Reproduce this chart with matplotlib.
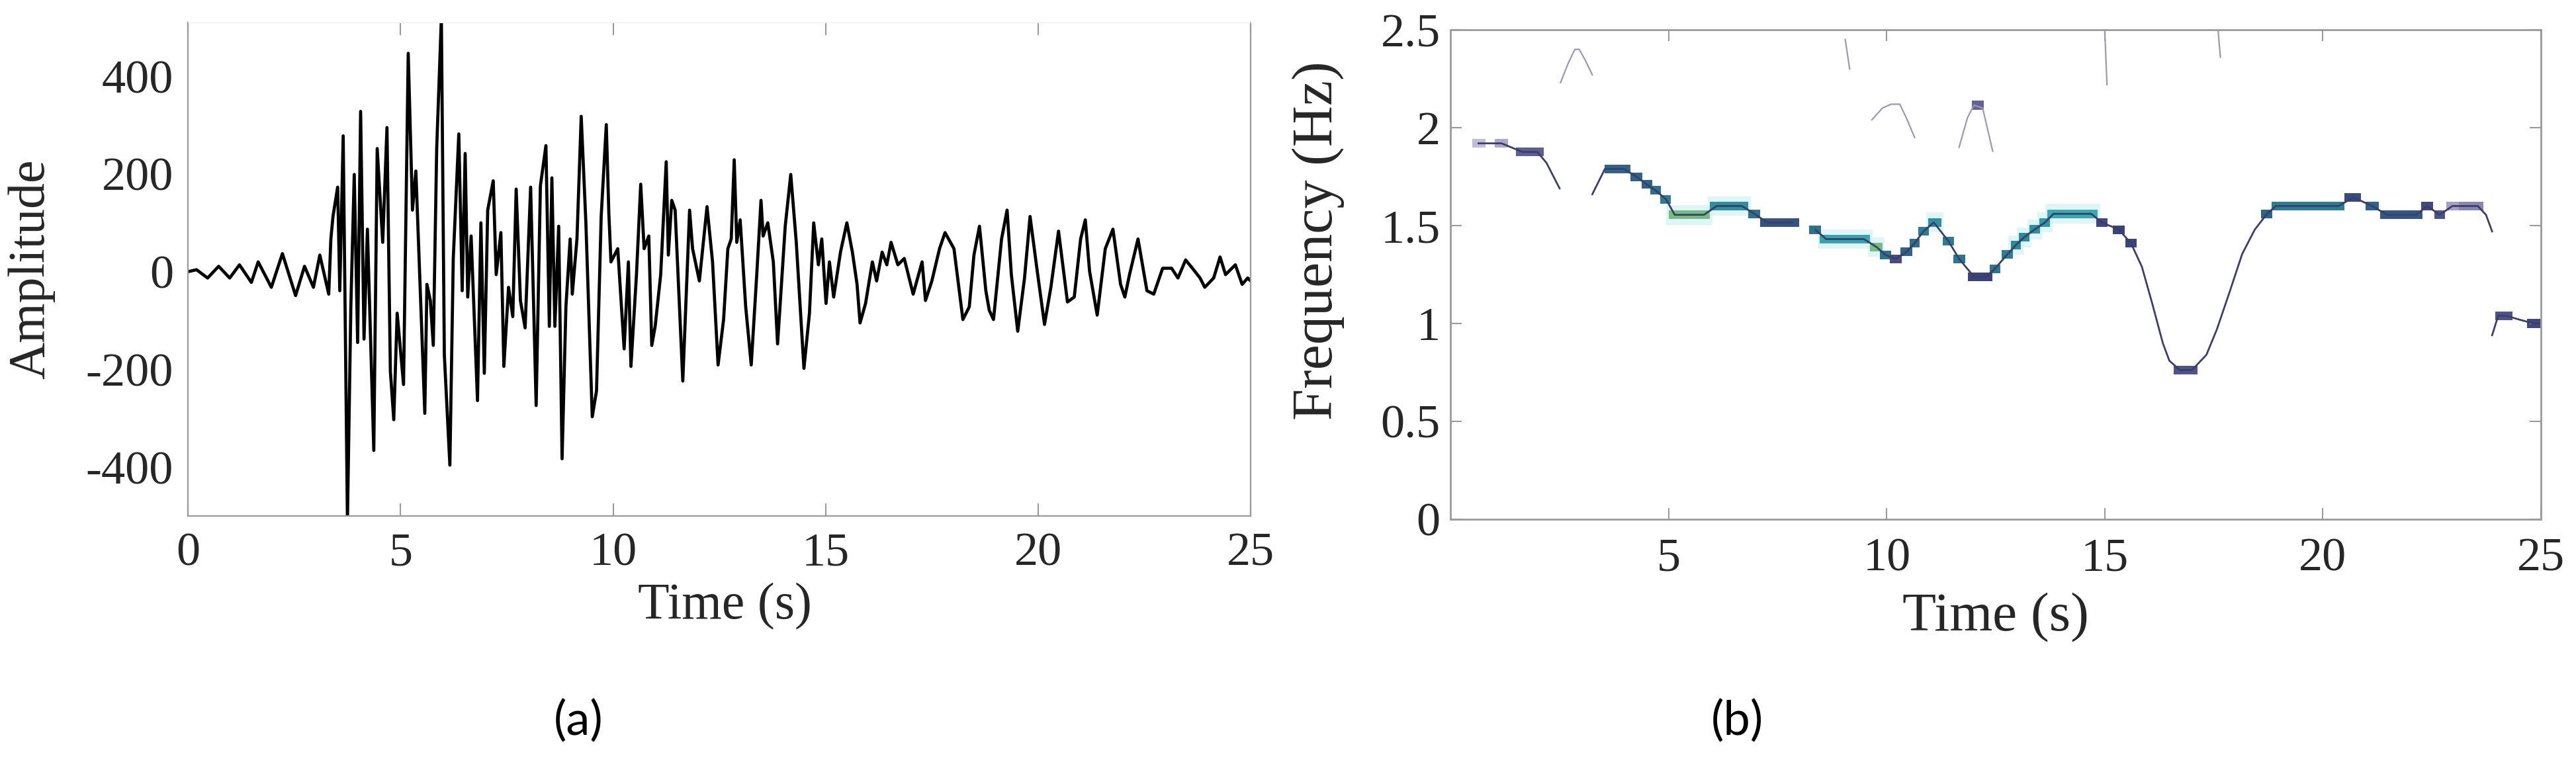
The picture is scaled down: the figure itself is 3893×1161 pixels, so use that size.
import numpy as np
import matplotlib
matplotlib.use("Agg")
import matplotlib.pyplot as plt
from matplotlib.colors import LinearSegmentedColormap

plt.rcParams['font.family'] = ['Liberation Serif', 'DejaVu Serif']
plt.rcParams['axes.unicode_minus'] = False

# ---- (a) ground motion record, vertices ----
time_s = [0.00, 0.20, 0.46, 0.72, 0.98, 1.21, 1.49, 1.65, 1.96, 2.22, 2.53, 2.74, 2.95, 3.10, 3.31,
          3.36, 3.41, 3.52, 3.57, 3.65, 3.75, 3.83, 3.91, 3.99, 4.06, 4.14, 4.22, 4.37, 4.45, 4.58,
          4.68, 4.76, 4.84, 4.92, 5.07, 5.18, 5.28, 5.36, 5.57, 5.62, 5.70, 5.77, 5.85, 5.96, 6.03,
          6.16, 6.24, 6.37, 6.45, 6.52, 6.58, 6.66, 6.81, 6.89, 6.97, 7.05, 7.18, 7.25, 7.36, 7.43,
          7.54, 7.64, 7.72, 7.82, 7.93, 8.06, 8.19, 8.29, 8.42, 8.50, 8.56, 8.63, 8.72, 8.80, 8.89,
          8.99, 9.04, 9.15, 9.25, 9.36, 9.51, 9.61, 9.72, 9.84, 9.90, 9.95, 10.11, 10.26, 10.36, 10.42,
          10.55, 10.65, 10.73, 10.84, 10.91, 10.99, 11.12, 11.25, 11.30, 11.38, 11.46, 11.64, 11.80, 11.87, 12.03,
          12.21, 12.34, 12.47, 12.60, 12.70, 12.78, 12.85, 12.91, 12.99, 13.12, 13.25, 13.38, 13.48, 13.53, 13.64,
          13.77, 13.87, 14.05, 14.18, 14.31, 14.49, 14.62, 14.72, 14.83, 14.91, 15.01, 15.09, 15.19, 15.35, 15.50,
          15.63, 15.74, 15.81, 15.94, 16.10, 16.20, 16.33, 16.44, 16.54, 16.70, 16.85, 17.06, 17.27, 17.35, 17.50,
          17.68, 17.81, 18.02, 18.23, 18.38, 18.49, 18.62, 18.77, 18.85, 18.95, 19.14, 19.27, 19.37, 19.52, 19.68,
          19.81, 19.97, 20.15, 20.30, 20.48, 20.69, 20.85, 21.00, 21.11, 21.21, 21.39, 21.58, 21.76, 21.94, 22.04,
          22.15, 22.35, 22.56, 22.72, 22.93, 23.14, 23.29, 23.47, 23.63, 23.81, 23.92, 24.13, 24.28, 24.41, 24.64,
          24.80, 24.93, 25.00]
amplitude = [0, 4, -13, 11, -13, 14, -22, 20, -32, 37, -49, 11, -32, 34, -46,
             67, 113, 173, -39, 278, -510, -72, 199, -145, 328, -138, 87, -366, 252, 60,
             295, -204, -303, -85, -231, 447, 126, 206, -290, -26, -59, -151, 252, 520, -171,
             -396, 27, 282, -39, 242, -52, 73, -264, 100, -208, 126, 186, -6, 80, -194,
             -32, -92, 169, -59, -115, 173, -274, 176, 258, -112, 192, -112, 93, -383, -72,
             67, -46, 67, 318, 100, -297, -244, 113, 301, 120, 20, 47, -158, 20, -194,
             -6, 179, 47, 73, -151, -112, -6, 225, 34, 146, 126, -224, 126, 47, -19,
             133, 20, -191, -98, 47, 67, 229, 60, 106, -72, -191, -6, 146, 73, 100,
             20, -148, 93, 199, 60, -198, -85, 100, 14, 67, -65, 20, -52, 40, 100,
             40, -26, -105, -65, 20, -19, 40, 14, 60, 14, 27, -46, 20, -59, -19,
             47, 80, 47, -98, -72, 34, 93, -39, -79, -98, 67, 126, -6, -122, -13,
             113, 7, -108, -32, 83, -62, -52, 67, 106, 1, -89, 47, 87, -26, -52,
             -6, 67, -39, -46, 7, 7, -13, 24, 7, -13, -32, -13, 30, -6, 14,
             -26, -13, -19]

# ---- (b) instantaneous frequency ridge ----
ridge_t = [0.64, 1.17, 1.65, 1.99, 2.20, 2.50, np.nan,
           3.25, 3.54, 3.68, 3.97, 4.26, 4.50, 4.70, 4.94, 5.14, 5.81, 6.10, 6.68, 6.97, 7.26, 7.84, np.nan,
           8.37, 8.61, 9.48, 9.77, 9.97, 10.21, 10.45, 10.64, 10.84, 11.08, 11.42, 11.66, 12.00, 12.28,
           12.48, 12.77, 12.96, 13.15, 13.39, 13.63, 13.82, 14.69, 14.93, 15.32, 15.60, 15.85, 16.09,
           16.33, 16.48, 16.72, 17.00, 17.33, 17.57, 17.86, 18.15, 18.44, 18.72, 18.92, 20.36, 20.70,
           21.13, 21.47, 22.14, 22.39, 22.68, 22.97, 23.55, 23.74, 23.88, np.nan,
           23.88, 24.02, 24.21, 24.50, 24.83, 25.00]
ridge_f = [1.92, 1.92, 1.876, 1.876, 1.82, 1.69, np.nan,
           1.66, 1.79, 1.79, 1.79, 1.75, 1.71, 1.68, 1.634, 1.555, 1.555, 1.60, 1.60, 1.56, 1.516, 1.516, np.nan,
           1.478, 1.431, 1.431, 1.39, 1.35, 1.33, 1.365, 1.41, 1.47, 1.516, 1.419, 1.33, 1.239, 1.239,
           1.28, 1.354, 1.40, 1.44, 1.48, 1.516, 1.56, 1.56, 1.516, 1.48, 1.41, 1.29, 1.10,
           0.90, 0.81, 0.762, 0.762, 0.84, 0.97, 1.16, 1.355, 1.48, 1.56, 1.60, 1.60, 1.644,
           1.60, 1.555, 1.555, 1.60, 1.555, 1.60, 1.60, 1.555, 1.47, np.nan,
           0.94, 1.04, 1.039, 1.02, 1.00, 1.00]

# weak side branches of the ridge
branch_t = [[2.52, 2.70, 2.85, 2.95, 3.10, 3.25],
            [9.66, 9.90, 10.10, 10.30, 10.45, 10.64],
            [11.66, 11.85, 12.00, 12.20, 12.43],
            [9.05, 9.15], [15.00, 15.05], [17.60, 17.65]]
branch_f = [[2.23, 2.33, 2.40, 2.40, 2.34, 2.27],
            [2.04, 2.10, 2.12, 2.12, 2.05, 1.95],
            [1.90, 2.05, 2.115, 2.10, 1.88],
            [2.45, 2.30], [2.49, 2.22], [2.49, 2.36]]

# energy cells along the ridge: start, end, frequency, relative energy
cell_t0 = [0.50, 1.02, 1.50, 3.53, 4.12, 4.38, 4.58, 4.80, 5.00, 5.95, 6.83, 7.10, 8.22, 8.47, 9.62,
           9.85, 10.07, 10.32, 10.52, 10.72, 10.95, 11.28, 11.52, 11.86, 12.36, 12.64, 12.84, 13.03, 13.27,
           13.50, 13.68, 14.80, 15.18, 15.47, 16.58, 18.58, 18.82, 20.50, 20.98, 21.32, 22.26, 22.55, 22.83,
           23.12, 23.95, 24.68, 11.95]
cell_t1 = [0.80, 1.32, 2.14, 4.12, 4.40, 4.62, 4.82, 5.05, 5.95, 6.83, 7.10, 8.00, 8.50, 9.62, 9.90,
           10.10, 10.35, 10.58, 10.76, 10.96, 11.25, 11.54, 11.80, 12.42, 12.60, 12.90, 13.08, 13.27, 13.51,
           13.75, 14.84, 15.06, 15.46, 15.73, 17.12, 18.84, 20.50, 20.88, 21.28, 22.28, 22.52, 22.80, 23.12,
           23.68, 24.35, 25.00, 12.22]
cell_f = [1.92, 1.92, 1.876, 1.79, 1.75, 1.71, 1.68, 1.634, 1.555, 1.60, 1.56, 1.516, 1.478, 1.431, 1.39,
          1.35, 1.33, 1.365, 1.41, 1.47, 1.516, 1.419, 1.33, 1.239, 1.28, 1.354, 1.40, 1.44, 1.48,
          1.516, 1.56, 1.516, 1.478, 1.41, 0.762, 1.56, 1.60, 1.644, 1.60, 1.555, 1.60, 1.555, 1.60,
          1.60, 1.039, 1.00, 2.115]
cell_e = [0.05, 0.10, 0.30, 0.55, 0.55, 0.55, 0.60, 0.65, 0.92, 0.72, 0.60, 0.48, 0.60, 0.80, 0.92,
          0.60, 0.38, 0.55, 0.60, 0.65, 0.72, 0.65, 0.62, 0.42, 0.62, 0.66, 0.70, 0.70, 0.72,
          0.75, 0.82, 0.40, 0.42, 0.42, 0.35, 0.55, 0.65, 0.45, 0.55, 0.50, 0.40, 0.35, 0.12,
          0.18, 0.35, 0.40, 0.28]

cmap = LinearSegmentedColormap.from_list(
    "ridge", [(0.0, '#d4d2e4'), (0.25, '#6b6a9a'), (0.42, '#3a4478'), (0.55, '#2f6584'),
              (0.68, '#2a8494'), (0.82, '#38aab2'), (1.0, '#a8cc5a')])

fig = plt.figure(figsize=(38.93, 11.61), dpi=100)
spine_col = '#9a9a9a'
txt_col = '#262626'

# ---------------- panel (a) ----------------
ax1 = fig.add_axes([0.0730, 0.3282, 0.4125, 0.6425])
ax1.plot(time_s, amplitude, color='black', lw=3.4)
ax1.set_xlim(0, 25)
ax1.set_ylim(-500, 510)
ax1.set_xticks([0, 5, 10, 15, 20, 25])
ax1.set_yticks([-400, -200, 0, 200, 400])
ax1.set_xlabel('Time (s)', fontsize=56, color=txt_col)
ax1.xaxis.set_label_coords(0.505, -0.135)
ax1.set_ylabel('Amplitude', fontsize=56, color=txt_col)
ax1.yaxis.set_label_coords(-0.125, 0.5)
ax1.tick_params(axis='x', direction='in', length=14, width=1.5, color=spine_col,
                labelsize=52, labelcolor=txt_col, pad=18, top=True)
ax1.tick_params(axis='y', direction='in', length=0, labelsize=52, labelcolor=txt_col, pad=16)
for side in ['left', 'bottom', 'right']:
    ax1.spines[side].set_color(spine_col)
    ax1.spines[side].set_linewidth(1.6)
ax1.spines['top'].set_color('#f0f0f0')

# ---------------- panel (b) ----------------
ax2 = fig.add_axes([0.5631, 0.3239, 0.4233, 0.6373])
for bt, bf in zip(branch_t, branch_f):
    ax2.plot(bt, bf, color='#9a98b6', lw=1.6)
ax2.plot(ridge_t, ridge_f, color='#3a3d6e', lw=2.0)
cell_t0 = np.array(cell_t0)
cell_t1 = np.array(cell_t1)
cell_f = np.array(cell_f)
cell_e = np.array(cell_e)
hot = cell_e > 0.68
ax2.bar(cell_t0[hot] - 0.05, 0.1, width=cell_t1[hot] - cell_t0[hot] + 0.1, bottom=cell_f[hot] - 0.05,
        align='edge', color='#d2f2f6', alpha=0.7, lw=0)
ax2.bar(cell_t0, 0.044, width=cell_t1 - cell_t0, bottom=cell_f - 0.022,
        align='edge', color=cmap(cell_e), lw=0)
ax2.set_xlim(0, 25)
ax2.set_ylim(0, 2.5)
ax2.set_xticks([5, 10, 15, 20, 25])
ax2.set_yticks([0, 0.5, 1, 1.5, 2, 2.5])
ax2.set_yticklabels(['0', '0.5', '1', '1.5', '2', '2.5'])
ax2.set_xlabel('Time (s)', fontsize=60, color=txt_col)
ax2.xaxis.set_label_coords(0.5, -0.15)
ax2.set_ylabel('Frequency (Hz)', fontsize=62, color=txt_col)
ax2.yaxis.set_label_coords(-0.097, 0.57)
ax2.tick_params(direction='in', length=12, width=1.5, color=spine_col,
                labelsize=52, labelcolor=txt_col, top=True, right=True)
ax2.tick_params(axis='x', pad=20)
ax2.tick_params(axis='y', pad=11)
for side in ax2.spines:
    ax2.spines[side].set_color(spine_col)
    ax2.spines[side].set_linewidth(2.0)

fig.text(0.2245, 0.061, '(a)', fontsize=52, family='Lato', ha='center', va='center', color='black')
fig.text(0.6745, 0.061, '(b)', fontsize=52, family='Lato', ha='center', va='center', color='black')

fig.savefig('out.png', dpi=100)
